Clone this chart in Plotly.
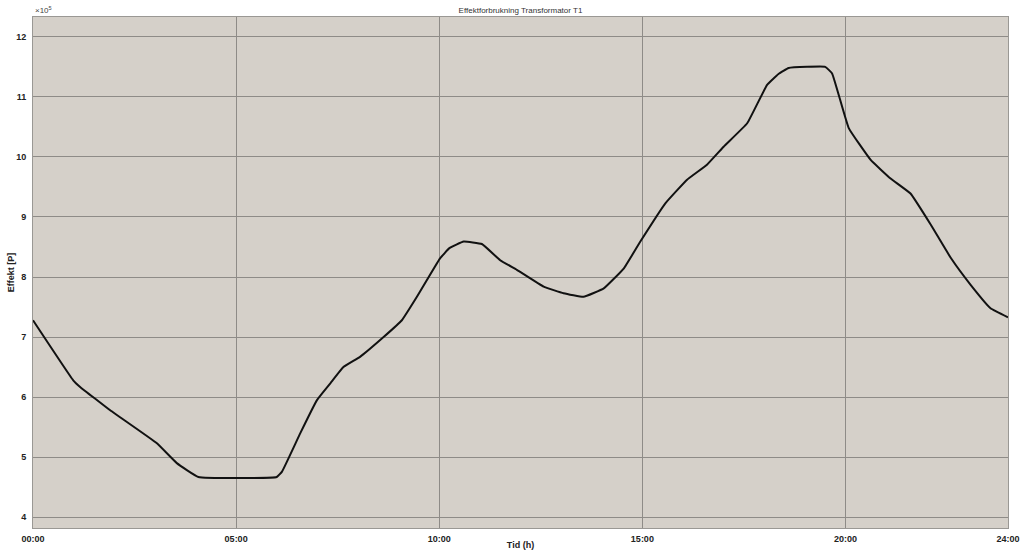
import plotly.graph_objects as go

# Time in hours
hours = [0.0, 0.99, 1.16, 1.9, 3.05, 3.54, 4.07, 6.0, 6.13, 6.58, 6.99, 7.32, 7.64,
         8.05, 8.63, 9.08, 9.45, 10.02, 10.25, 10.6, 11.05, 11.5, 11.91, 12.57, 13.06,
         13.55, 14.05, 14.54, 14.95, 15.57, 16.1, 16.59, 17.0, 17.58, 18.07, 18.35,
         18.6, 19.5, 19.67, 20.08, 20.62, 21.11, 21.6, 22.1, 22.59, 23.08, 23.57, 24.0]
# Power (P)
effekt = [728000, 628000, 617000, 578000, 523000, 490000, 467000, 467000, 476000, 540000,
          595000, 623000, 650000, 667000, 700000, 728000, 767000, 831000, 848000, 859000,
          855000, 828000, 812000, 784000, 773000, 767000, 781000, 814000, 859000, 923000,
          962000, 987000, 1017000, 1056000, 1120000, 1138000, 1148000, 1150000, 1139000,
          1048000, 995000, 964000, 939000, 887000, 832000, 787000, 748000, 733000]

x_tickvals = [0, 5, 10, 15, 20, 24]
x_ticktext = ["00:00", "05:00", "10:00", "15:00", "20:00", "24:00"]
y_tickvals = [400000, 500000, 600000, 700000, 800000, 900000, 1000000, 1100000, 1200000]
y_ticktext = ["4", "5", "6", "7", "8", "9", "10", "11", "12"]

FONT = "Liberation Sans, Arial, sans-serif"

fig = go.Figure()
fig.add_trace(go.Scatter(x=hours, y=effekt, mode="lines", line_shape="spline",
                         line=dict(color="#111111", width=2, smoothing=0.3), showlegend=False))

tickfont = dict(family=FONT, size=9, color="#222222", weight="bold")

fig.update_layout(
    width=1024, height=550,
    margin=dict(l=33, r=16, t=17, b=22, autoexpand=False),
    paper_bgcolor="white",
    plot_bgcolor="#d5d0c9",
    title=dict(text="Effektforbrukning Transformator T1", x=0.5, xref="paper",
               y=1.0, yref="paper", yanchor="bottom", pad=dict(b=4),
               font=dict(family=FONT, size=8, color="#333333")),
    xaxis=dict(range=[0, 24], tickvals=x_tickvals, ticktext=x_ticktext,
               showgrid=True, gridcolor="#8e8b87", gridwidth=1, automargin=False,
               zeroline=False, showline=True, linecolor="#9a9894", mirror=True,
               ticks="", tickfont=tickfont, ticklabelstandoff=2,
               title=dict(text="Tid (h)", standoff=0,
                          font=dict(family=FONT, size=9, color="#222222", weight="bold"))),
    yaxis=dict(range=[382000, 1233000], tickvals=y_tickvals, ticktext=y_ticktext,
               showgrid=True, gridcolor="#8e8b87", gridwidth=1, automargin=False,
               zeroline=False, showline=True, linecolor="#9a9894", mirror=True,
               ticks="", tickfont=tickfont, ticklabelstandoff=4,
               title=dict(text="Effekt [P]", standoff=0,
                          font=dict(family=FONT, size=9, color="#222222", weight="bold"))),
    annotations=[dict(text="×10<sup>5</sup>", xref="paper", yref="paper", x=0.0, y=1.0,
                      xanchor="left", yanchor="bottom", showarrow=False,
                      font=dict(family=FONT, size=8, color="#444444"))],
)

fig.write_html("out.html", config={"displayModeBar": False},
               post_script="document.body.style.margin='0';")
